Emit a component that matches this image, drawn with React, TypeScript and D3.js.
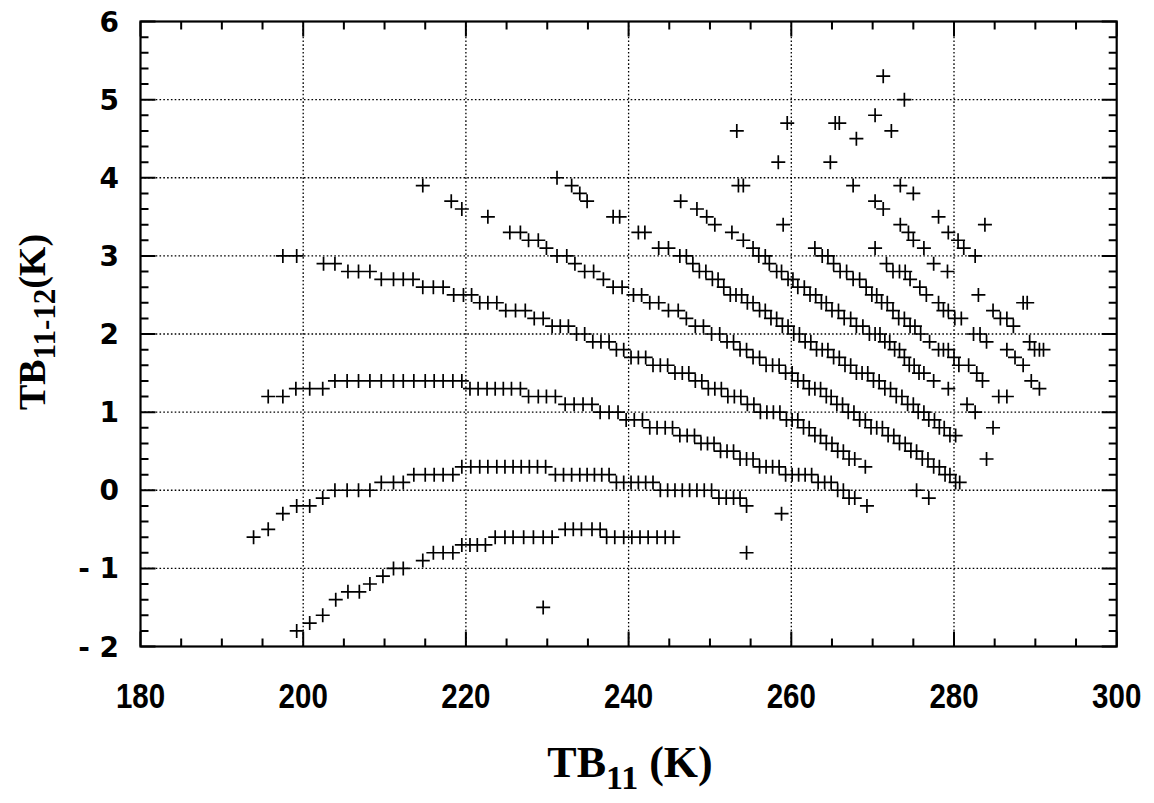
import React from 'react';
import * as d3 from 'd3';

type P = [number, number];

const xTickValues = [180, 200, 220, 240, 260, 280, 300];
const xTickLabels = ['180', '200', '220', '240', '260', '280', '300'];
const yTickValues = [-2, -1, 0, 1, 2, 3, 4, 5, 6];
const yTickLabels = ['- 2', '- 1', '0', '1', '2', '3', '4', '5', '6'];

const seriesA: P[] = [[199.2,-1.8],[200.8,-1.7],[202.4,-1.6],[204.0,-1.4],[205.5,-1.3],[206.9,-1.3],[208.2,-1.2],[209.8,-1.1],[211.1,-1.0],[212.3,-1.0],[214.7,-0.9],[216.0,-0.8],[217.2,-0.8],[218.4,-0.8],[219.5,-0.7],[220.5,-0.7],[221.4,-0.7],[222.4,-0.7],[223.6,-0.6],[224.8,-0.6],[225.8,-0.6],[227.1,-0.6],[228.3,-0.6],[229.5,-0.6],[230.6,-0.6],[232.2,-0.5],[233.2,-0.5],[234.2,-0.5],[235.5,-0.5],[236.5,-0.5],[237.3,-0.6],[238.3,-0.6],[239.4,-0.6],[240.4,-0.6],[241.4,-0.6],[242.4,-0.6],[243.5,-0.6],[244.5,-0.6],[245.5,-0.6]];

const seriesB: P[] = [[193.9,-0.6],[195.7,-0.5],[197.5,-0.3],[199.2,-0.2],[200.8,-0.2],[202.4,-0.1],[203.9,0.0],[205.4,0.0],[206.8,0.0],[208.2,0.0],[209.6,0.1],[211.1,0.1],[212.3,0.1],[213.6,0.2],[215.0,0.2],[216.1,0.2],[217.2,0.2],[218.4,0.2],[219.5,0.3],[220.6,0.3],[221.7,0.3],[222.7,0.3],[223.8,0.3],[224.8,0.3],[225.8,0.3],[226.8,0.3],[227.8,0.3],[228.8,0.3],[229.8,0.3],[231.0,0.2],[232.0,0.2],[233.0,0.2],[234.0,0.2],[234.9,0.2],[235.8,0.2],[236.7,0.2],[237.6,0.2],[238.5,0.1],[239.4,0.1],[240.3,0.1],[241.2,0.1],[242.1,0.1],[243.0,0.1],[243.9,0.0],[244.8,0.0],[245.7,0.0],[246.6,0.0],[247.5,0.0],[248.4,0.0],[249.3,0.0],[250.2,0.0],[251.1,-0.1],[252.0,-0.1],[252.9,-0.1],[253.7,-0.1],[254.5,-0.2]];

const seriesC: P[] = [[195.7,1.2],[197.5,1.2],[199.1,1.3],[200.8,1.3],[202.4,1.3],[203.9,1.4],[205.4,1.4],[206.8,1.4],[208.2,1.4],[209.6,1.4],[211.1,1.4],[212.3,1.4],[213.6,1.4],[215.0,1.4],[216.1,1.4],[217.2,1.4],[218.4,1.4],[219.5,1.4],[220.5,1.3],[221.5,1.3],[222.6,1.3],[223.6,1.3],[224.6,1.3],[225.6,1.3],[226.7,1.3],[227.7,1.2],[228.9,1.2],[229.9,1.2],[231.0,1.2],[232.2,1.1],[233.3,1.1],[234.4,1.1],[235.5,1.1],[236.5,1.0],[237.6,1.0],[238.7,1.0],[239.7,0.9],[240.7,0.9],[241.7,0.9],[242.6,0.8],[243.5,0.8],[244.5,0.8],[245.4,0.8],[246.3,0.7],[247.2,0.7],[248.1,0.7],[248.9,0.6],[249.7,0.6],[250.5,0.6],[251.3,0.5],[252.1,0.5],[252.9,0.5],[253.7,0.4],[254.5,0.4],[255.3,0.4],[256.1,0.3],[256.9,0.3],[257.7,0.3],[258.5,0.3],[259.3,0.2],[260.1,0.2],[260.9,0.2],[261.7,0.2],[262.5,0.2],[263.3,0.1],[264.1,0.1],[264.9,0.1],[265.7,0.0],[266.4,0.0],[267.1,-0.1],[267.8,-0.1],[269.3,-0.2]];

const seriesD: P[] = [[197.5,3.0],[199.2,3.0],[202.5,2.9],[203.9,2.9],[205.5,2.8],[206.8,2.8],[208.2,2.8],[209.6,2.7],[211.1,2.7],[212.3,2.7],[213.5,2.7],[214.7,2.6],[216.0,2.6],[217.2,2.6],[218.5,2.5],[219.7,2.5],[220.7,2.5],[221.7,2.4],[222.7,2.4],[223.8,2.4],[224.9,2.3],[226.1,2.3],[227.3,2.3],[228.4,2.2],[229.5,2.2],[230.6,2.1],[231.6,2.1],[232.6,2.1],[233.6,2.0],[234.6,2.0],[235.6,1.9],[236.6,1.9],[237.6,1.9],[238.5,1.8],[239.4,1.8],[240.3,1.7],[241.2,1.7],[242.1,1.7],[243.0,1.6],[243.9,1.6],[244.8,1.6],[245.7,1.5],[246.6,1.5],[247.4,1.5],[248.2,1.4],[249.0,1.4],[249.8,1.3],[250.6,1.3],[251.4,1.3],[252.2,1.2],[253.0,1.2],[253.8,1.2],[254.6,1.1],[255.4,1.1],[256.2,1.0],[257.0,1.0],[257.8,1.0],[258.6,1.0],[259.4,0.9],[260.1,0.9],[260.8,0.9],[261.5,0.8],[262.2,0.8],[262.9,0.7],[263.6,0.7],[264.3,0.6],[265.0,0.6],[265.7,0.5],[266.4,0.5],[267.1,0.4],[267.8,0.4],[269.1,0.3]];

const seriesE: P[] = [[214.7,3.9],[218.2,3.7],[219.5,3.6],[222.7,3.5],[225.4,3.3],[226.7,3.3],[227.7,3.2],[228.9,3.2],[229.9,3.1],[231.2,3.0],[232.4,3.0],[233.4,2.9],[234.6,2.8],[235.7,2.8],[236.9,2.7],[238.1,2.6],[239.2,2.6],[240.6,2.5],[241.6,2.5],[242.6,2.4],[243.7,2.4],[244.9,2.3],[246.1,2.3],[247.1,2.2],[248.2,2.1],[249.2,2.1],[250.2,2.0],[251.2,2.0],[252.1,1.9],[252.9,1.9],[253.7,1.8],[254.5,1.8],[255.3,1.7],[256.1,1.7],[256.9,1.6],[257.7,1.6],[258.5,1.6],[259.3,1.5],[260.1,1.5],[260.8,1.4],[261.5,1.4],[262.2,1.3],[262.9,1.3],[263.6,1.3],[264.3,1.2],[264.9,1.2],[265.6,1.1],[266.3,1.1],[267.0,1.0],[267.7,1.0],[268.4,0.9],[269.1,0.9],[269.8,0.8],[270.5,0.8],[271.2,0.8],[271.9,0.7],[272.6,0.7],[273.3,0.6],[274.0,0.6],[274.7,0.5],[275.4,0.5],[276.1,0.4],[276.8,0.4],[277.5,0.3],[278.2,0.3],[278.9,0.2],[279.5,0.2],[280.2,0.1],[280.7,0.1]];

const seriesF: P[] = [[231.2,4.0],[233.0,3.9],[234.0,3.8],[234.9,3.7],[238.1,3.5],[238.9,3.5],[241.2,3.3],[242.0,3.3],[243.7,3.1],[244.9,3.1],[246.3,3.0],[247.1,3.0],[247.9,2.9],[248.7,2.8],[249.5,2.8],[250.3,2.7],[251.0,2.7],[251.7,2.6],[252.5,2.5],[253.2,2.5],[253.9,2.5],[254.6,2.4],[255.3,2.4],[256.1,2.3],[256.8,2.3],[257.5,2.2],[258.2,2.2],[258.9,2.1],[259.6,2.1],[260.3,2.0],[261.0,2.0],[261.7,1.9],[262.4,1.9],[263.1,1.8],[263.8,1.8],[264.5,1.8],[265.2,1.7],[265.9,1.7],[266.6,1.6],[267.3,1.6],[268.0,1.5],[268.7,1.5],[269.4,1.5],[270.1,1.4],[270.8,1.4],[271.5,1.3],[272.2,1.3],[272.9,1.2],[273.6,1.2],[274.3,1.1],[275.0,1.1],[275.6,1.0],[276.3,1.0],[276.9,0.9],[277.6,0.9],[278.2,0.8],[278.8,0.8],[279.5,0.7],[280.2,0.7],[284.0,0.4]];

const seriesG: P[] = [[246.4,3.7],[248.4,3.6],[249.6,3.5],[250.6,3.4],[252.7,3.3],[254.1,3.2],[255.3,3.1],[256.0,3.0],[256.8,3.0],[257.3,2.9],[258.2,2.8],[258.8,2.8],[259.6,2.7],[260.2,2.7],[260.8,2.6],[261.6,2.6],[262.3,2.5],[263.0,2.5],[263.7,2.4],[264.3,2.4],[265.0,2.3],[265.8,2.3],[266.5,2.2],[267.3,2.2],[268.0,2.1],[268.8,2.1],[269.6,2.0],[270.3,2.0],[270.9,2.0],[271.5,1.9],[272.1,1.9],[272.7,1.8],[273.3,1.8],[273.9,1.7],[274.5,1.6],[275.1,1.6],[275.7,1.5],[276.3,1.5],[277.5,1.4],[279.3,1.3],[281.6,1.1],[282.6,1.0],[284.8,0.8]];

const seriesH: P[] = [[259.0,3.4],[262.9,3.1],[263.8,3.0],[264.5,3.0],[265.2,2.9],[266.0,2.8],[266.8,2.8],[267.6,2.7],[268.4,2.7],[269.2,2.6],[269.9,2.5],[270.5,2.5],[271.1,2.4],[271.8,2.4],[272.5,2.3],[273.2,2.2],[273.9,2.2],[274.6,2.1],[275.2,2.1],[275.9,2.0],[277.0,1.9],[278.1,1.8],[278.7,1.8],[279.3,1.8],[280.0,1.7],[280.6,1.6],[281.8,1.6],[282.8,1.5],[283.5,1.4],[285.5,1.2],[286.5,1.2]];

const seriesI: P[] = [[270.3,3.1],[271.7,2.9],[272.5,2.8],[273.3,2.8],[274.0,2.8],[274.6,2.7],[275.8,2.6],[276.6,2.5],[278.1,2.4],[278.7,2.3],[279.3,2.3],[280.1,2.2],[280.9,2.2],[282.4,2.0],[283.2,2.0],[284.0,1.9],[286.5,1.8],[287.5,1.7],[288.5,1.6],[289.5,1.4],[290.5,1.3]];

const seriesJ: P[] = [[267.6,3.9],[270.3,3.7],[271.3,3.6],[273.4,3.4],[274.4,3.3],[275.0,3.2],[276.3,3.1],[277.5,2.9],[279.2,2.8],[283.0,2.5],[284.8,2.3],[285.7,2.2],[286.5,2.2],[287.3,2.1],[289.3,1.9],[289.9,1.8],[290.5,1.8],[291.0,1.8]];

const seriesK: P[] = [[273.4,3.9],[275.0,3.8],[278.1,3.5],[279.3,3.3],[280.5,3.2],[281.2,3.1],[282.6,3.0]];

const isolated: P[] = [[229.5,-1.5],[254.5,-0.8],[258.8,-0.3],[275.4,0.0],[276.9,-0.1],[253.3,4.6],[253.5,3.9],[254.1,3.9],[258.4,4.2],[259.5,4.7],[264.8,4.2],[265.4,4.7],[265.9,4.7],[268.0,4.5],[270.3,4.8],[271.3,5.3],[272.3,4.6],[273.9,5.0],[283.8,3.4],[288.5,2.4],[289.0,2.4]];

const allSeries: P[][] = [seriesA, seriesB, seriesC, seriesD, seriesE, seriesF, seriesG, seriesH, seriesI, seriesJ, seriesK, isolated];

const W = 1154;
const H = 803;
const L = 140.5, R = 1116.7, T = 21.5, B = 646.5;

export default function App() {
  const x = d3.scaleLinear().domain([180, 300]).range([L, R]);
  const y = d3.scaleLinear().domain([-2, 6]).range([B, T]);
  const minorX = d3.range(180, 300.01, 5).filter(v => Math.abs(v % 20) > 0.01);
  const minorY = d3.range(-20, 61, 2).map(v => v / 10).filter(v => Math.abs(v - Math.round(v)) > 0.01);
  const gridX = xTickValues.filter(v => v > 180 && v < 300);
  const gridY = yTickValues.filter(v => v > -2 && v < 6);
  const cross = allSeries.flat().map(([a, b]) => {
    const cx = x(a), cy = y(b);
    return `M${cx - 7},${cy}H${cx + 7}M${cx},${cy - 7}V${cy + 7}`;
  }).join('');
  const tickPath: string[] = [];
  xTickValues.forEach(v => { const px = x(v); tickPath.push(`M${px},${B}V${B - 15}M${px},${T}V${T + 15}`); });
  minorX.forEach(v => { const px = x(v); tickPath.push(`M${px},${B}V${B - 8}M${px},${T}V${T + 8}`); });
  yTickValues.forEach(v => { const py = y(v); tickPath.push(`M${L},${py}H${L + 15}M${R},${py}H${R - 15}`); });
  minorY.forEach(v => { const py = y(v); tickPath.push(`M${L},${py}H${L + 8}M${R},${py}H${R - 8}`); });

  return (
    <svg width={W} height={H} style={{ position: 'absolute', left: 0, top: 0, background: '#fff' }}>
      <rect x={0} y={0} width={W} height={H} fill="#fff" />
      <g stroke="#000" strokeWidth={1.3} strokeDasharray="1.6,2.2">
        {gridX.map(v => <line key={'gx' + v} x1={x(v)} x2={x(v)} y1={T} y2={B} />)}
        {gridY.map(v => <line key={'gy' + v} x1={L} x2={R} y1={y(v)} y2={y(v)} />)}
      </g>
      <path d={tickPath.join('')} stroke="#000" strokeWidth={2} fill="none" />
      <rect x={L} y={T} width={R - L} height={B - T} fill="none" stroke="#000" strokeWidth={2.2} />
      <path d={cross} stroke="#000" strokeWidth={1.7} fill="none" />
      <g fontFamily="'DejaVu Sans', sans-serif" fontWeight="bold" fontSize={28} textAnchor="end">
        {yTickValues.map((v, i) => (
          <text key={'yl' + v} x={119} y={y(v)} dy="0.36em">{yTickLabels[i]}</text>
        ))}
      </g>
      <g fontFamily="'Liberation Sans', Arial, sans-serif" fontWeight="bold" fontSize={36} textAnchor="middle">
        {xTickValues.map((v, i) => (
          <text key={'xl' + v} transform={`translate(${x(v)},708) scale(0.82,1)`}>{xTickLabels[i]}</text>
        ))}
      </g>
      <text x={630} y={777} textAnchor="middle" fontFamily="'Liberation Serif', 'Times New Roman', serif" fontWeight="bold" fontSize={44}>
        TB<tspan fontSize={34} dy={12}>11</tspan><tspan dy={-12}> (K)</tspan>
      </text>
      <text transform={`translate(45,322) rotate(-90)`} textAnchor="middle" fontFamily="'Liberation Serif', 'Times New Roman', serif" fontWeight="bold" fontSize={38}>
        TB<tspan fontSize={31} dy={10}>11-12</tspan><tspan dy={-10}>(K)</tspan>
      </text>
    </svg>
  );
}
